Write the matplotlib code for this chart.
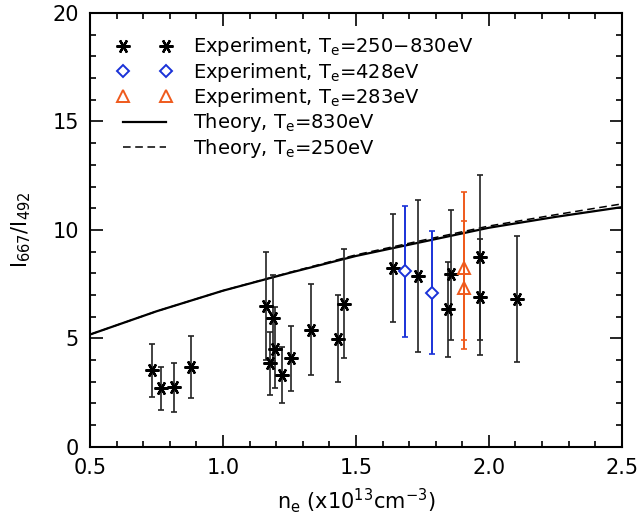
import matplotlib
matplotlib.use("Agg")
import matplotlib.pyplot as plt
from matplotlib.lines import Line2D
from matplotlib.ticker import MultipleLocator

# experiment, Te = 250-830 eV
exp_x = [0.733, 0.767, 0.816, 0.880, 1.160, 1.177, 1.187, 1.195, 1.223, 1.255,
         1.331, 1.431, 1.457, 1.638, 1.732, 1.846, 1.857, 1.966, 1.968, 2.106]
exp_y = [3.53, 2.71, 2.75, 3.67, 6.48, 3.85, 5.95, 4.53, 3.30, 4.11,
         5.40, 4.99, 6.59, 8.24, 7.89, 6.36, 7.97, 8.76, 6.89, 6.82]
exp_lo = [2.29, 1.70, 1.61, 2.25, 4.00, 2.39, 3.98, 2.69, 2.00, 2.57,
          3.30, 3.00, 4.11, 5.75, 4.37, 4.14, 4.91, 4.91, 4.22, 3.91]
exp_hi = [4.72, 3.67, 3.85, 5.09, 8.96, 5.31, 7.92, 6.44, 4.60, 5.55,
          7.51, 7.02, 9.11, 10.75, 11.38, 8.53, 10.90, 12.52, 9.58, 9.72]

# experiment, Te = 428 eV
blue_x = [1.685, 1.787]
blue_y = [8.09, 7.08]
blue_lo = [5.06, 4.27]
blue_hi = [11.09, 9.95]

# experiment, Te = 283 eV
orange_x = [1.906, 1.906]
orange_y = [8.24, 7.33]
orange_lo = [4.53, 4.91]
orange_hi = [11.76, 10.40]

# theory curves
th_x = [0.5, 0.75, 1.0, 1.25, 1.5, 1.75, 2.0, 2.25, 2.5]
th_830 = [5.18, 6.25, 7.2, 8.02, 8.8, 9.45, 10.1, 10.6, 11.05]
th_250 = [5.18, 6.25, 7.2, 8.04, 8.85, 9.52, 10.18, 10.7, 11.2]

labels = [r"Experiment, T$_\mathregular{e}$=250$-$830eV",
          r"Experiment, T$_\mathregular{e}$=428eV",
          r"Experiment, T$_\mathregular{e}$=283eV",
          r"Theory, T$_\mathregular{e}$=830eV",
          r"Theory, T$_\mathregular{e}$=250eV"]

BLUE = "#1a32d8"
ORANGE = "#ef5a1c"
STAR = (6, 2, 90)

plt.rcParams["font.family"] = ["DejaVu Sans"]
plt.rcParams["mathtext.default"] = "regular"

fig = plt.figure(figsize=(6.39, 5.22), dpi=100)
ax = fig.add_axes([0.141, 0.144, 0.832, 0.831])


def asym(y, lo, hi):
    return [[a - b for a, b in zip(y, lo)], [b - a for a, b in zip(y, hi)]]


ax.plot(th_x, th_830, color="black", lw=1.6, zorder=2)
ax.plot(th_x, th_250, color="black", lw=1.1, ls=(0, (5, 3)), zorder=2)

ax.errorbar(exp_x, exp_y, yerr=asym(exp_y, exp_lo, exp_hi), fmt="none",
            ecolor="#222222", elinewidth=1.2, capsize=2.5, capthick=1.2, zorder=3)
ax.plot(exp_x, exp_y, ls="none", marker=STAR, ms=10, mew=1.7, color="black", zorder=4)

ax.errorbar(blue_x, blue_y, yerr=asym(blue_y, blue_lo, blue_hi), fmt="none",
            ecolor=BLUE, elinewidth=1.4, capsize=2.5, capthick=1.2, zorder=3)
ax.plot(blue_x, blue_y, ls="none", marker="D", ms=6.5, mew=1.4, mfc="white",
        mec=BLUE, zorder=4)

ax.errorbar(orange_x, orange_y, yerr=asym(orange_y, orange_lo, orange_hi), fmt="none",
            ecolor=ORANGE, elinewidth=1.4, capsize=2.5, capthick=1.2, zorder=3)
ax.plot(orange_x, orange_y, ls="none", marker="^", ms=8.5, mew=1.4, mfc="none",
        mec=ORANGE, zorder=4)

ax.set_xlim(0.5, 2.5)
ax.set_ylim(0, 20)
ax.xaxis.set_major_locator(MultipleLocator(0.5))
ax.xaxis.set_minor_locator(MultipleLocator(0.1))
ax.yaxis.set_major_locator(MultipleLocator(5))
ax.yaxis.set_minor_locator(MultipleLocator(1))
ax.set_xticks([0.5, 1.0, 1.5, 2.0, 2.5])
ax.set_xticklabels(["0.5", "1.0", "1.5", "2.0", "2.5"])
ax.tick_params(which="both", direction="in", top=True, right=True, width=1.2,
               labelsize=15)
ax.tick_params(which="major", length=9, pad=8)
ax.tick_params(which="minor", length=4.5)
for side in ["left", "top", "right", "bottom"]:
    ax.spines[side].set_linewidth(1.5)

ax.set_xlabel(r"n$_\mathregular{e}$ (x10$^{13}$cm$^{-3}$)", fontsize=15, labelpad=6)
ax.set_ylabel(r"I$_{667}$/I$_{492}$", fontsize=15, labelpad=14)

handles = [
    Line2D([], [], ls="none", marker=STAR, ms=10, mew=1.7, color="black"),
    Line2D([], [], ls="none", marker="D", ms=6.5, mew=1.4, mfc="white", mec=BLUE),
    Line2D([], [], ls="none", marker="^", ms=8.5, mew=1.4, mfc="none", mec=ORANGE),
    Line2D([], [], color="black", lw=1.6),
    Line2D([], [], color="black", lw=1.1, ls=(0, (5, 3))),
]
ax.legend(handles, labels, loc="upper left", frameon=False, numpoints=2,
          fontsize=14, handlelength=2.8, handletextpad=1.1, labelspacing=0.12,
          borderaxespad=0.3, bbox_to_anchor=(0.025, 0.98))

fig.savefig("out.png", dpi=100)
